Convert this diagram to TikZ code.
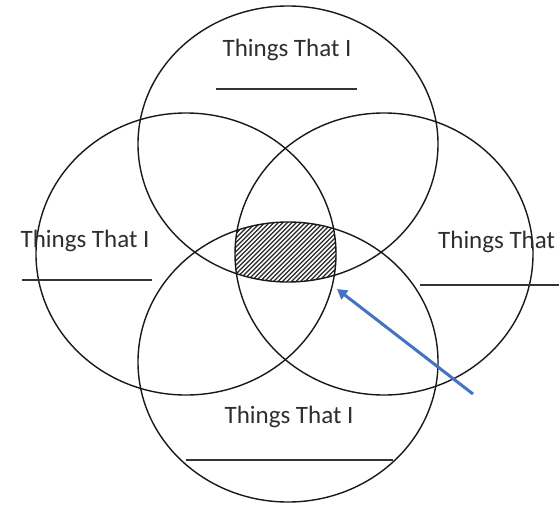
\documentclass[tikz,border=0pt]{standalone}
\usepackage{fontspec}
\setmainfont{Carlito}
\usetikzlibrary{arrows.meta}
\definecolor{arrowblue}{HTML}{4472C4}
\begin{document}
\begin{tikzpicture}[x=1pt,y=-1pt,
  venn/.style={draw=black!90, line width=1.4pt},
  lbl/.style={font=\fontsize{25}{30}\selectfont, text=black!82, inner sep=0pt, anchor=base},
  blank/.style={draw=black!80, line width=1.6pt},
  hatch/.style={line width=1.1pt, draw=black!85}]
\fill[white] (0,0) rectangle (559,506);
\useasboundingbox (0,0) rectangle (559,506);
\coordinate (cT) at (288,144);
\coordinate (cL) at (186,254);
\coordinate (cR) at (384,254);
\coordinate (cB) at (288,362);
\begin{scope}
 \clip (cT) ellipse [x radius=150, y radius=138];
 \clip (cL) ellipse [x radius=150, y radius=141];
 \clip (cR) ellipse [x radius=149, y radius=141];
 \clip (cB) ellipse [x radius=150, y radius=140];
 \foreach \i in {100,104.5,...,400} \draw[hatch] (\i,320) -- (\i+120,200);
\end{scope}
\draw[venn] (cT) ellipse [x radius=150, y radius=138];
\draw[venn] (cL) ellipse [x radius=150, y radius=141];
\draw[venn] (cR) ellipse [x radius=149, y radius=141];
\draw[venn] (cB) ellipse [x radius=150, y radius=140];
\node[lbl] (tT) at (287,56) {Things That I};
\node[lbl] (tL) at (85,247) {Things That I};
\node[lbl, anchor=base west] (tR) at (438,248) {Things That};
\node[lbl] (tB) at (289,423) {Things That I};
\draw[blank] (216,89) -- (357,89);
\draw[blank] (22,280) -- (152,280);
\draw[blank] (420,285) -- (559,285);
\draw[blank] (186,460) -- (393,460);
\coordinate (aTail) at (473,394);
\coordinate (aHead) at (337,289);
\draw[arrowblue, line width=3pt, -{Triangle[length=10pt,width=11pt]}] (aTail) -- (aHead);
\end{tikzpicture}
\end{document}
